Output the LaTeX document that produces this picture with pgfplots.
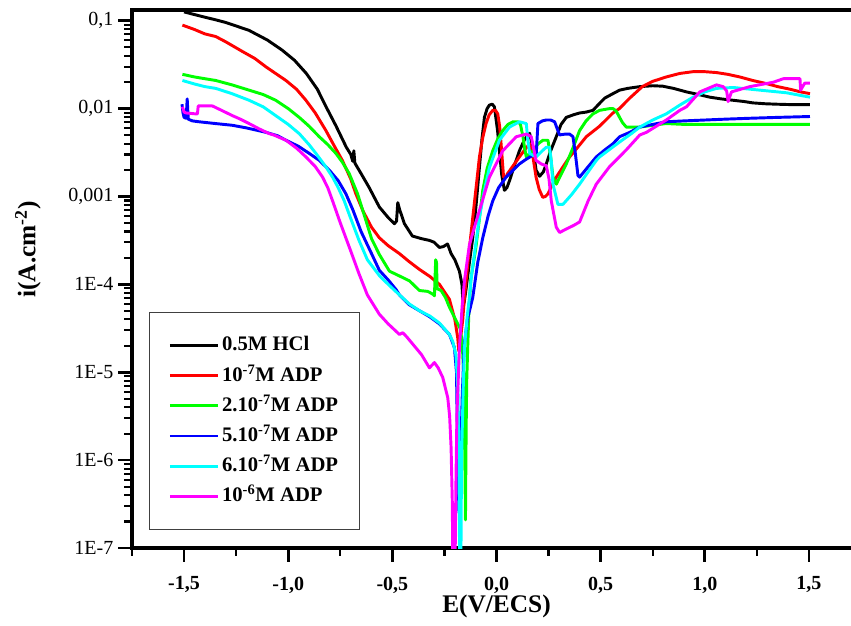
\documentclass[border=0pt]{standalone}
\usepackage{fontspec}
\setmainfont{Liberation Serif}
\usepackage{pgfplots}
\pgfplotsset{compat=1.18}
\usetikzlibrary{calc}
\definecolor{cGreen}{RGB}{0,255,0}
\definecolor{cCyan}{RGB}{0,255,255}
\definecolor{cMagenta}{RGB}{255,0,255}
\definecolor{cBlue}{RGB}{0,0,255}
\definecolor{cRed}{RGB}{255,0,0}
\begin{document}
\begin{tikzpicture}
\begin{axis}[
  scale only axis,
  width=546.75pt, height=403.5pt,
  xmin=-1.75, xmax=1.75,
  ymin=-7, ymax=-0.878,
  tick align=inside,
  tick pos=left,
  major tick length=0pt, minor tick length=0pt,
  axis line style={line width=2.4pt},
  xtick={-1.5,-1,-0.5,0,0.5,1,1.5},
  xticklabels={{-1,5},{-1,0},{-0,5},{0,0},{0,5},{1,0},{1,5}},
  ytick={-7,-6,-5,-4,-3,-2,-1},
  yticklabels={1E-7,1E-6,1E-5,1E-4,{0,001},{0,01},{0,1}},
  xticklabel style={font=\bfseries\fontsize{15}{18}\selectfont, yshift=-18pt},
  yticklabel style={font=\fontsize{15}{18}\selectfont, xshift=-10.5pt},
  xlabel={E(V/ECS)},
  ylabel={i(A.cm\textsuperscript{-2})},
  every axis x label/.style={at={([yshift=-43.5pt]rel axis cs:0.5,0)}, anchor=center, font=\bfseries\fontsize{19}{22}\selectfont},
  every axis y label/.style={at={([xshift=-78pt]rel axis cs:0,0.555)}, anchor=center, rotate=90, font=\bfseries\fontsize{19}{22}\selectfont},
  legend cell align=left,
  legend image code/.code={\draw[#1] (0pt,0pt) -- (36pt,0pt);},
  legend style={at={(rel axis cs:0.0237,0.4392)}, anchor=north west,
    draw=black!75, line width=0.8pt, inner xsep=14pt, inner ysep=18pt, row sep=8.6pt,
    font=\bfseries\fontsize{15.5}{18}\selectfont,
    nodes={inner xsep=2pt, inner ysep=0pt, text height=11pt, text depth=3pt}},
  every axis plot/.append style={line width=2.2pt, line join=round},
]
% 0.5M HCl
\addplot[black] coordinates {
(-1.50,-0.90) (-1.45,-0.93) (-1.40,-0.96) (-1.348,-0.99) (-1.30,-1.02) (-1.25,-1.06)
(-1.188,-1.11) (-1.10,-1.22) (-1.029,-1.335) (-0.97,-1.45) (-0.913,-1.60) (-0.86,-1.78)
(-0.817,-1.985) (-0.77,-2.20) (-0.721,-2.44) (-0.70,-2.52) (-0.69,-2.60) (-0.685,-2.48)
(-0.68,-2.62) (-0.65,-2.74) (-0.611,-2.90) (-0.5625,-3.12) (-0.52,-3.24) (-0.49,-3.31)
(-0.48,-3.28) (-0.474,-3.07) (-0.465,-3.15) (-0.442,-3.31) (-0.404,-3.45) (-0.36,-3.48)
(-0.322,-3.50) (-0.30,-3.52) (-0.274,-3.58) (-0.255,-3.57) (-0.235,-3.54) (-0.218,-3.65)
(-0.20,-3.72) (-0.178,-3.85) (-0.166,-4.0) (-0.160,-4.25) (-0.155,-4.2) (-0.146,-4.05)
(-0.13,-3.75) (-0.114,-3.47) (-0.098,-3.1) (-0.082,-2.67) (-0.07,-2.35) (-0.058,-2.10)
(-0.045,-2.0) (-0.034,-1.96) (-0.02,-1.95) (-0.01,-1.98) (0.005,-2.25) (0.014,-2.48)
(0.025,-2.75) (0.038,-2.93) (0.05,-2.90) (0.0625,-2.82) (0.09,-2.62) (0.11,-2.48)
(0.135,-2.35) (0.159,-2.28) (0.175,-2.45) (0.19,-2.70) (0.207,-2.77) (0.225,-2.72)
(0.239,-2.63) (0.26,-2.48) (0.287,-2.32) (0.31,-2.18) (0.335,-2.10) (0.37,-2.07)
(0.399,-2.05) (0.43,-2.04) (0.463,-2.02) (0.495,-1.94) (0.52,-1.88) (0.559,-1.83)
(0.591,-1.79) (0.63,-1.77) (0.688,-1.75) (0.75,-1.74) (0.798,-1.745) (0.85,-1.77)
(0.912,-1.81) (0.97,-1.84) (1.024,-1.87) (1.08,-1.89) (1.135,-1.905) (1.19,-1.92)
(1.23,-1.935) (1.29,-1.945) (1.345,-1.95) (1.42,-1.955) (1.505,-1.955)
};
\addlegendentry{0.5M HCl}
% 1e-7 M ADP
\addplot[cRed] coordinates {
(-1.508,-1.05) (-1.45,-1.10) (-1.40,-1.15) (-1.348,-1.18) (-1.30,-1.24) (-1.22,-1.35)
(-1.16,-1.43) (-1.107,-1.525) (-1.011,-1.68) (-0.96,-1.78) (-0.915,-1.905) (-0.87,-2.05)
(-0.819,-2.25) (-0.78,-2.42) (-0.74,-2.59) (-0.70,-2.80) (-0.675,-2.97) (-0.64,-3.17)
(-0.60,-3.35) (-0.5625,-3.47) (-0.52,-3.56) (-0.466,-3.65) (-0.42,-3.74) (-0.37,-3.83)
(-0.32,-3.91) (-0.274,-4.0) (-0.226,-4.17) (-0.20,-4.40) (-0.186,-4.61) (-0.181,-4.76)
(-0.172,-4.60) (-0.162,-4.40) (-0.154,-4.15) (-0.135,-3.70) (-0.114,-3.24) (-0.098,-2.90)
(-0.082,-2.55) (-0.066,-2.33) (-0.05,-2.17) (-0.035,-2.07) (-0.018,-2.02) (-0.005,-2.02)
(0.006,-2.06) (0.015,-2.20) (0.022,-2.40) (0.034,-2.78) (0.045,-2.78) (0.053,-2.74)
(0.08,-2.65) (0.11,-2.55) (0.135,-2.47) (0.159,-2.40) (0.175,-2.55) (0.19,-2.78)
(0.205,-2.92) (0.222,-3.01) (0.235,-3.00) (0.247,-2.97) (0.265,-2.88) (0.287,-2.78)
(0.32,-2.66) (0.351,-2.55) (0.39,-2.44) (0.431,-2.32) (0.495,-2.20) (0.559,-2.05)
(0.59,-2.00) (0.64,-1.88) (0.70,-1.75) (0.75,-1.69) (0.815,-1.64) (0.88,-1.60)
(0.943,-1.58) (1.00,-1.58) (1.056,-1.59) (1.11,-1.61) (1.168,-1.64) (1.23,-1.68)
(1.295,-1.715) (1.35,-1.75) (1.41,-1.78) (1.46,-1.81) (1.505,-1.83)
};
\addlegendentry{10\textsuperscript{-7}M ADP}
% 2.1e-7 M ADP
\addplot[cGreen] coordinates {
(-1.508,-1.61) (-1.45,-1.64) (-1.40,-1.66) (-1.348,-1.68) (-1.27,-1.73) (-1.188,-1.79)
(-1.12,-1.84) (-1.06,-1.905) (-1.00,-2.00) (-0.947,-2.10) (-0.90,-2.20) (-0.851,-2.32)
(-0.81,-2.41) (-0.771,-2.51) (-0.74,-2.61) (-0.707,-2.74) (-0.667,-2.97) (-0.63,-3.25)
(-0.60,-3.48) (-0.5625,-3.66) (-0.514,-3.85) (-0.47,-3.90) (-0.418,-3.96) (-0.37,-4.07)
(-0.33,-4.08) (-0.307,-4.11) (-0.298,-4.13) (-0.292,-3.72) (-0.288,-3.75) (-0.285,-4.05)
(-0.266,-4.07) (-0.245,-4.15) (-0.226,-4.26) (-0.205,-4.36) (-0.186,-4.45) (-0.175,-4.50)
(-0.165,-4.65) (-0.158,-5.0) (-0.154,-5.6) (-0.151,-6.2) (-0.149,-6.68) (-0.147,-6.0)
(-0.145,-5.5) (-0.143,-5.10) (-0.138,-4.70) (-0.133,-4.34) (-0.124,-3.95) (-0.10,-3.60)
(-0.082,-3.25) (-0.066,-2.93) (-0.045,-2.68) (-0.018,-2.48) (0.005,-2.35) (0.03,-2.25)
(0.055,-2.18) (0.079,-2.15) (0.103,-2.15) (0.115,-2.18) (0.127,-2.32) (0.135,-2.45)
(0.143,-2.55) (0.155,-2.52) (0.175,-2.48) (0.20,-2.40) (0.223,-2.36) (0.247,-2.36)
(0.26,-2.55) (0.271,-2.78) (0.287,-2.86) (0.31,-2.75) (0.335,-2.63) (0.37,-2.43)
(0.399,-2.25) (0.43,-2.14) (0.463,-2.06) (0.495,-2.02) (0.543,-2.00) (0.56,-2.00)
(0.575,-2.03) (0.591,-2.10) (0.605,-2.16) (0.623,-2.21) (0.688,-2.21) (0.75,-2.19)
(0.815,-2.17) (0.9,-2.18) (1.0,-2.18) (1.1,-2.18) (1.216,-2.18) (1.35,-2.18) (1.505,-2.18)
};
\addlegendentry{2.10\textsuperscript{-7}M ADP}
% 5.1e-7 M ADP
\addplot[cBlue] coordinates {
(-1.51,-1.95) (-1.505,-2.05) (-1.50,-2.10) (-1.49,-2.11) (-1.485,-1.89) (-1.48,-2.12)
(-1.46,-2.14) (-1.428,-2.15) (-1.35,-2.17) (-1.268,-2.19) (-1.20,-2.22) (-1.107,-2.27)
(-1.05,-2.31) (-1.011,-2.36) (-0.95,-2.43) (-0.899,-2.51) (-0.85,-2.59) (-0.803,-2.70)
(-0.76,-2.82) (-0.723,-2.97) (-0.69,-3.15) (-0.65,-3.40) (-0.60,-3.65) (-0.5625,-3.84)
(-0.52,-3.95) (-0.482,-4.06) (-0.466,-4.12) (-0.42,-4.23) (-0.37,-4.30) (-0.32,-4.37)
(-0.274,-4.45) (-0.226,-4.57) (-0.202,-4.72) (-0.192,-5.0) (-0.186,-6.0) (-0.180,-6.6)
(-0.172,-6.0) (-0.165,-5.3) (-0.155,-4.7) (-0.14,-4.4) (-0.114,-4.15) (-0.09,-3.75)
(-0.066,-3.47) (-0.04,-3.22) (-0.018,-3.05) (0.01,-2.90) (0.046,-2.78) (0.08,-2.70)
(0.11,-2.63) (0.14,-2.58) (0.175,-2.53) (0.191,-2.51) (0.197,-2.25) (0.199,-2.17)
(0.22,-2.14) (0.239,-2.13) (0.26,-2.13) (0.279,-2.15) (0.29,-2.22) (0.303,-2.30)
(0.33,-2.29) (0.351,-2.29) (0.367,-2.32) (0.378,-2.50) (0.391,-2.76) (0.399,-2.78)
(0.43,-2.69) (0.479,-2.55) (0.52,-2.47) (0.559,-2.40) (0.591,-2.32) (0.64,-2.27)
(0.688,-2.21) (0.75,-2.18) (0.815,-2.15) (0.9,-2.14) (1.0,-2.13) (1.1,-2.12)
(1.216,-2.11) (1.35,-2.10) (1.505,-2.09)
};
\addlegendentry{5.10\textsuperscript{-7}M ADP}
% 6.1e-7 M ADP
\addplot[cCyan] coordinates {
(-1.508,-1.68) (-1.45,-1.72) (-1.40,-1.75) (-1.348,-1.77) (-1.27,-1.83) (-1.188,-1.905)
(-1.12,-1.98) (-1.06,-2.08) (-1.00,-2.18) (-0.947,-2.285) (-0.90,-2.41) (-0.867,-2.51)
(-0.82,-2.66) (-0.787,-2.78) (-0.76,-2.90) (-0.731,-3.05) (-0.70,-3.25) (-0.66,-3.50)
(-0.62,-3.72) (-0.5625,-3.90) (-0.52,-4.00) (-0.466,-4.12) (-0.42,-4.22) (-0.37,-4.30)
(-0.32,-4.36) (-0.274,-4.44) (-0.226,-4.57) (-0.21,-4.65) (-0.195,-4.80) (-0.185,-5.2)
(-0.18,-6.0) (-0.177,-7.2) (-0.171,-7.2) (-0.168,-6.0) (-0.16,-5.2) (-0.154,-4.72)
(-0.14,-4.35) (-0.13,-4.15) (-0.12,-3.9) (-0.10,-3.55) (-0.082,-3.24) (-0.06,-2.95)
(-0.034,-2.67) (0.014,-2.36) (0.0625,-2.21) (0.11,-2.15) (0.143,-2.17) (0.15,-2.35)
(0.159,-2.51) (0.19,-2.55) (0.22,-2.48) (0.239,-2.44) (0.255,-2.44) (0.263,-2.60)
(0.271,-2.86) (0.295,-3.09) (0.319,-3.09) (0.36,-2.98) (0.399,-2.86) (0.44,-2.72)
(0.479,-2.59) (0.495,-2.55) (0.54,-2.47) (0.591,-2.38) (0.65,-2.28) (0.688,-2.21)
(0.75,-2.13) (0.815,-2.06) (0.88,-1.96) (0.944,-1.87) (1.0,-1.81) (1.056,-1.77)
(1.137,-1.76) (1.2,-1.775) (1.264,-1.79) (1.392,-1.82) (1.505,-1.87)
};
\addlegendentry{6.10\textsuperscript{-7}M ADP}
% 1e-6 M ADP
\addplot[cMagenta] coordinates {
(-1.508,-1.98) (-1.50,-2.04) (-1.49,-2.05) (-1.445,-2.06) (-1.436,-2.06) (-1.432,-1.97)
(-1.40,-1.97) (-1.364,-1.97) (-1.32,-2.02) (-1.268,-2.08) (-1.23,-2.12) (-1.188,-2.17)
(-1.14,-2.23) (-1.091,-2.285) (-1.07,-2.30) (-1.011,-2.36) (-0.96,-2.45) (-0.915,-2.55)
(-0.87,-2.66) (-0.835,-2.78) (-0.81,-2.90) (-0.787,-3.05) (-0.75,-3.30) (-0.70,-3.62)
(-0.66,-3.88) (-0.62,-4.12) (-0.5625,-4.34) (-0.52,-4.45) (-0.466,-4.57) (-0.45,-4.55)
(-0.43,-4.60) (-0.402,-4.68) (-0.36,-4.80) (-0.322,-4.95) (-0.298,-4.89) (-0.28,-4.95)
(-0.258,-5.06) (-0.234,-5.29) (-0.225,-5.5) (-0.218,-5.86) (-0.212,-6.5) (-0.21,-7.2)
(-0.199,-7.2) (-0.195,-6.3) (-0.19,-5.48) (-0.178,-4.72) (-0.165,-4.25) (-0.154,-3.96)
(-0.13,-3.55) (-0.10,-3.30) (-0.082,-3.16) (-0.034,-2.78) (0.03,-2.48) (0.095,-2.32)
(0.143,-2.29) (0.167,-2.32) (0.19,-2.59) (0.215,-2.63) (0.239,-2.65) (0.252,-2.80)
(0.263,-3.05) (0.287,-3.35) (0.303,-3.41) (0.335,-3.37) (0.37,-3.33) (0.399,-3.29)
(0.44,-3.05) (0.479,-2.86) (0.543,-2.66) (0.623,-2.47) (0.688,-2.30) (0.72,-2.27)
(0.815,-2.13) (0.88,-2.02) (0.912,-1.98) (0.976,-1.81) (1.056,-1.73) (1.088,-1.75)
(1.105,-1.80) (1.112,-1.92) (1.128,-1.81) (1.216,-1.75) (1.329,-1.70) (1.377,-1.66)
(1.457,-1.66) (1.46,-1.79) (1.48,-1.71) (1.505,-1.71)
};
\addlegendentry{10\textsuperscript{-6}M ADP}
\coordinate (SW) at (rel axis cs:0,0);
\coordinate (SE) at (rel axis cs:1,0);
\coordinate (NW) at (rel axis cs:0,1);
\coordinate (NE) at (rel axis cs:1,1);
\end{axis}
% tick marks of the axes (x: -1.75..1.75, y: -7..-0.878)
\foreach \e in {-1.5,-1.0,-0.5,0,0.5,1.0,1.5} {
  \pgfmathsetmacro\f{(\e+1.75)/3.5}
  \draw[black, line width=2pt] ($(SW)!\f!(SE)$) -- ++(0,-10.5pt);
}
\foreach \e in {-1.75,-1.25,-0.75,-0.25,0.25,0.75,1.25} {
  \pgfmathsetmacro\f{(\e+1.75)/3.5}
  \draw[black, line width=1.6pt] ($(SW)!\f!(SE)$) -- ++(0,-6pt);
}
\foreach \k in {0,...,6} {
  \pgfmathsetmacro\f{\k/6.122}
  \draw[black, line width=2pt] ($(SW)!\f!(NW)$) -- ++(-10.5pt,0);
}
\foreach \k in {0,...,5} {
  \foreach \l in {0.30103,0.47712,0.60206,0.69897,0.77815,0.84510,0.90309,0.95424} {
    \pgfmathsetmacro\f{(\k+\l)/6.122}
    \draw[black, line width=1.6pt] ($(SW)!\f!(NW)$) -- ++(-6pt,0);
  }
}
\pgfresetboundingbox
\useasboundingbox ([xshift=-99pt,yshift=-57.75pt]SW) rectangle ([xshift=-7.5pt,yshift=7.5pt]NE);
\end{tikzpicture}
\end{document}
